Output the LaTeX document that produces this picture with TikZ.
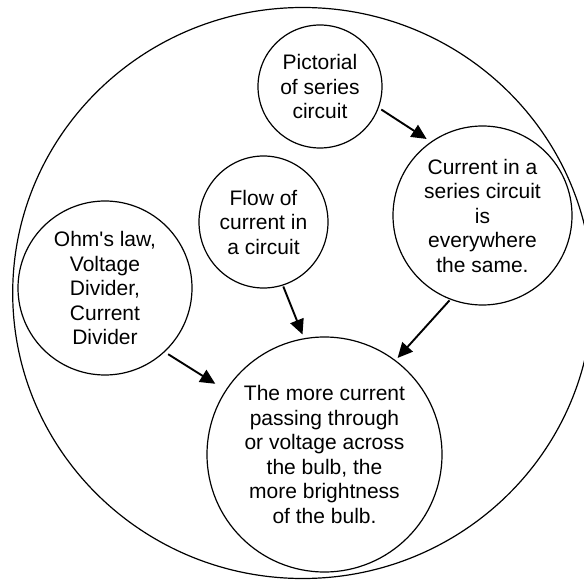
\documentclass[tikz,border=0pt]{standalone}
\usepackage{fontspec}
\setmainfont{Liberation Sans}[Ligatures=TeXOff]
\usetikzlibrary{shapes.geometric, arrows.meta}

\begin{document}
\begin{tikzpicture}[x=1pt, y=-1pt,
    bubble/.style={ellipse, draw, line width=1.2pt, inner sep=0pt, align=center,
      font=\fontsize{21}{24.5}\selectfont},
    conn/.style={-{Triangle[length=15pt, width=14pt]}, line width=1.9pt}]
  \useasboundingbox (0,0) rectangle (584,580);
  \node [ellipse, draw, line width=1.2pt, minimum width=580pt, minimum height=571pt] (outer) at (302.7,293) {};
  \node [bubble, minimum width=124pt, minimum height=123pt] (pic) at (320,86.5) {Pictorial\\of series\\circuit};
  \node [bubble, minimum width=179pt, minimum height=179pt] (cur) at (482.5,215.5) {Current in a\\series circuit\\is\\everywhere\\the same.};
  \node [bubble, minimum width=129pt, minimum height=132pt] (flow) at (263.5,222) {Flow of\\current in\\a circuit};
  \node [bubble, minimum width=174pt, minimum height=174pt] (ohm) at (105,288) {Ohm's law,\\Voltage\\Divider,\\Current\\Divider};
  \node [bubble, minimum width=235pt, minimum height=235pt] (bulb) at (324.5,454.5) {The more current\\passing through\\or voltage across\\the bulb, the\\more brightness\\of the bulb.};
  \draw [conn, shorten <=3pt, shorten >=5pt] (pic.-20) -- (cur.125);
  \draw [conn, shorten <=1pt, shorten >=4pt] (flow.-73) -- (bulb.100);
  \draw [conn, shorten <=1pt, shorten >=3pt] (cur.-111.6) -- (bulb.53);
  \draw [conn, shorten <=4pt, shorten >=12pt] (ohm.-47) -- (bulb.147.8);
\end{tikzpicture}
\end{document}
